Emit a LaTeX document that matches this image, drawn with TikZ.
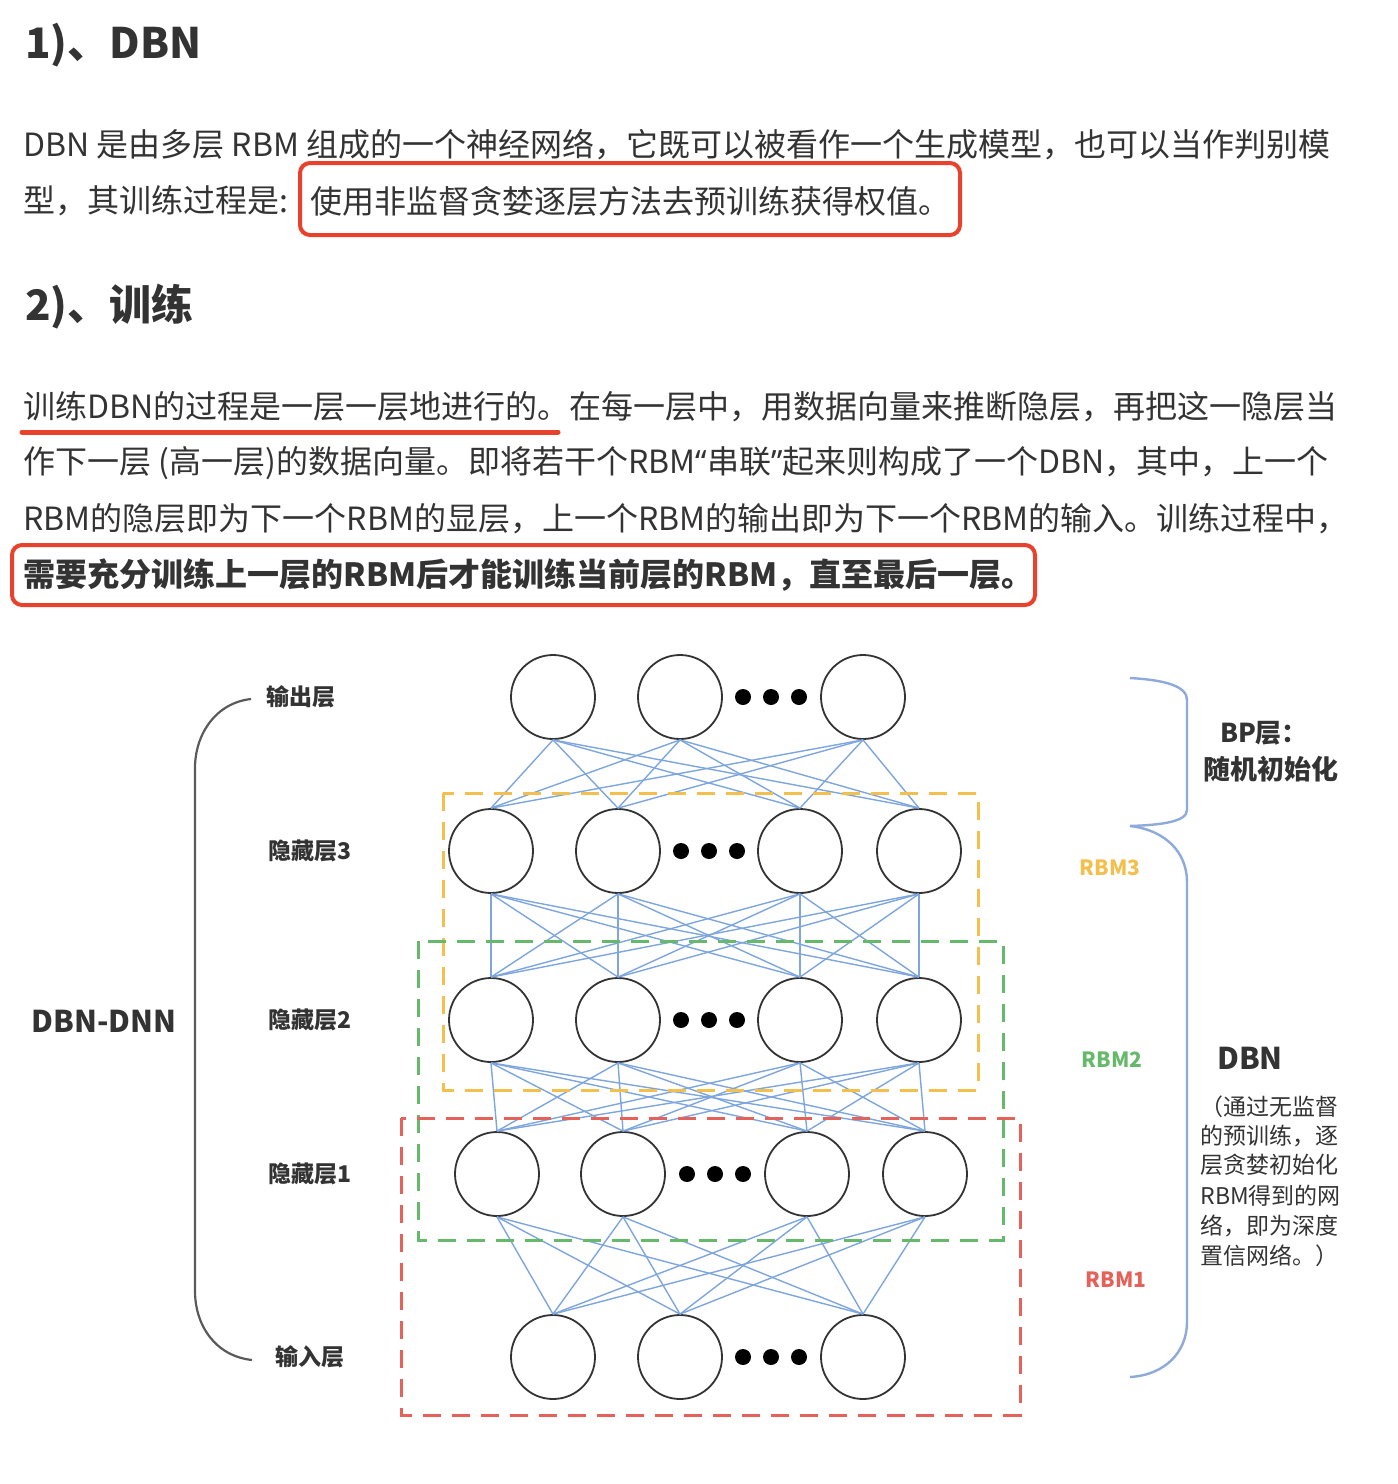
\documentclass[tikz,border=0pt]{standalone}
\usepackage{fontspec}
\setmainfont{Noto Sans CJK SC}
\newfontfamily\latinf{Noto Sans}
\definecolor{txt}{HTML}{333333}
\definecolor{hlred}{HTML}{E8412C}
\definecolor{connblue}{HTML}{7EA6DE}
\definecolor{yboxc}{HTML}{F3C04E}
\definecolor{gboxc}{HTML}{66B96A}
\definecolor{rboxc}{HTML}{E4625A}
\definecolor{bracegray}{HTML}{5A5A5A}
\definecolor{braceblue}{HTML}{8EAADB}
\begin{document}
\begin{tikzpicture}[x=0.5pt,y=-0.5pt,
  para/.style={anchor=west, inner sep=0pt, text=txt, font=\fontsize{16}{16}\selectfont},
  parab/.style={para, font=\fontsize{16}{16}\selectfont\bfseries},
  head/.style={anchor=west, inner sep=0pt, text=txt, font=\fontsize{21}{21}\selectfont\bfseries},
  hl/.style={draw=hlred, line width=2pt, rounded corners=5pt},
  neuron/.style={circle, draw=black!80, line width=0.9pt, fill=white, minimum size=42pt, inner sep=0pt},
  dotn/.style={circle, fill=black, minimum size=8pt, inner sep=0pt},
  conn/.style={draw=connblue, line width=0.7pt},
  dbox/.style={line width=1.5pt, dash pattern=on 9pt off 5.5pt},
  lab/.style={anchor=west, inner sep=0pt, text=txt, font=\fontsize{11.5}{11.5}\selectfont\bfseries},
  rlab/.style={inner sep=0pt, font=\fontsize{10.5}{10.5}\selectfont\bfseries},
  small/.style={anchor=west, inner sep=0pt, text=txt, font=\fontsize{11.5}{11.5}\selectfont}
]
\useasboundingbox (0,0) rectangle (1398,1484);
\fill[white] (0,0) rectangle (1398,1484);

% ---------- text ----------
\node[head] (h1) at (25,45) {1)、DBN};
\node[para] (p1a) at (23,145) {DBN 是由多层 RBM 组成的一个神经网络，它既可以被看作一个生成模型，也可以当作判别模};
\node[para] (p1b) at (23,201) {型，其训练过程是:};
\node[para] (p1c) at (310,201) {使用非监督贪婪逐层方法去预训练获得权值。};
\draw[hl] (300,163) rectangle (960,235);

\node[head] (h2) at (25,307) {2)、训练};
\node[para] (p2a) at (23,407) {训练DBN的过程是一层一层地进行的。在每一层中，用数据向量来推断隐层，再把这一隐层当};
\draw[hlred, line width=2.5pt, line cap=round] (22,432) -- (558,432);
\node[para] (p2b) at (23,463) {作下一层 (高一层)的数据向量。即将若干个RBM{\latinf “}串联{\latinf ”}起来则构成了一个DBN，其中，上一个};
\node[para] (p2c) at (23,519) {RBM的隐层即为下一个RBM的显层，上一个RBM的输出即为下一个RBM的输入。训练过程中，};
\node[parab] (p2d) at (23,575) {需要充分训练上一层的RBM后才能训练当前层的RBM，直至最后一层。};
\draw[hl] (12,545) rectangle (1035,605);

% ---------- neurons ----------
\foreach \n/\x in {1/553,2/680,3/863} \node[neuron] (o\n) at (\x,697) {};
\foreach \n/\x in {1/491,2/618,3/800,4/919} \node[neuron] (a\n) at (\x,851) {};
\foreach \n/\x in {1/491,2/618,3/800,4/919} \node[neuron] (b\n) at (\x,1020) {};
\foreach \n/\x in {1/497,2/623,3/807,4/925} \node[neuron] (c\n) at (\x,1174) {};
\foreach \n/\x in {1/553,2/680,3/863} \node[neuron] (i\n) at (\x,1357) {};

\foreach \n/\x in {1/743,2/771,3/799} \node[dotn] (do\n) at (\x,697) {};
\foreach \n/\x in {1/681,2/709,3/737} \node[dotn] (da\n) at (\x,851) {};
\foreach \n/\x in {1/681,2/709,3/737} \node[dotn] (db\n) at (\x,1020) {};
\foreach \n/\x in {1/687,2/715,3/743} \node[dotn] (dc\n) at (\x,1174) {};
\foreach \n/\x in {1/743,2/771,3/799} \node[dotn] (di\n) at (\x,1357) {};

% ---------- connections ----------
\foreach \i in {1,2,3} \foreach \j in {1,2,3,4} \draw[conn] (o\i.south) -- (a\j.north);
\foreach \i in {1,2,3,4} \foreach \j in {1,2,3,4} \draw[conn] (a\i.south) -- (b\j.north);
\foreach \i in {1,2,3,4} \foreach \j in {1,2,3,4} \draw[conn] (b\i.south) -- (c\j.north);
\foreach \i in {1,2,3,4} \foreach \j in {1,2,3} \draw[conn] (c\i.south) -- (i\j.north);

% ---------- dashed RBM boxes ----------
\draw[dbox, draw=yboxc] (443,793) rectangle (978,1090);
\draw[dbox, draw=gboxc] (418,941) rectangle (1003,1240);
\draw[dbox, draw=rboxc] (401,1118) rectangle (1020,1415);

% ---------- left brace & labels ----------
\coordinate (lbt) at (251,699);
\coordinate (lbb) at (252,1360);
\draw[bracegray, line width=1.1pt] (lbt) .. controls (215,703) and (195,735) .. (195,768) -- (195,1291) .. controls (195,1325) and (215,1356) .. (lbb);
\node[lab] (lout) at (266,697) {输出层};
\node[lab] (lh3) at (268,851) {隐藏层3};
\node[lab] (lh2) at (268,1020) {隐藏层2};
\node[lab] (lh1) at (268,1174) {隐藏层1};
\node[lab] (lin) at (275,1357) {输入层};
\node[inner sep=0pt, text=txt, font=\fontsize{15}{15}\selectfont\bfseries] (ldd) at (104,1021) {DBN-DNN};

% ---------- right brace & labels ----------
\coordinate (rb1) at (1130,678);
\coordinate (rb2) at (1130,826);
\coordinate (rb3) at (1130,1377);
\draw[braceblue, line width=1.2pt] (rb1) .. controls (1165,680) and (1187,686) .. (1187,700) -- (1187,810) .. controls (1187,822) and (1160,825) .. (rb2);
\draw[braceblue, line width=1.2pt] (rb2) .. controls (1165,830) and (1187,852) .. (1187,882) -- (1187,1322) .. controls (1187,1352) and (1165,1375) .. (rb3);

\node[inner sep=0pt, text=txt, font=\fontsize{13}{13}\selectfont\bfseries] (bp1) at (1264,733) {BP层：};
\node[inner sep=0pt, text=txt, font=\fontsize{13.5}{13.5}\selectfont\bfseries] (bp2) at (1271,769) {随机初始化};
\node[rlab, text=yboxc] (r3) at (1110,868) {RBM3};
\node[rlab, text=gboxc] (r2) at (1112,1060) {RBM2};
\node[rlab, text=rboxc] (r1) at (1116,1280) {RBM1};
\node[inner sep=0pt, text=txt, font=\fontsize{15}{15}\selectfont\bfseries] (dbn) at (1250,1058) {DBN};
\node[small] (s1) at (1200,1107) {（通过无监督};
\node[small] (s2) at (1200,1136) {的预训练，逐};
\node[small] (s3) at (1200,1165) {层贪婪初始化};
\node[small] (s4) at (1200,1196) {RBM得到的网};
\node[small] (s5) at (1200,1226) {络，即为深度};
\node[small] (s6) at (1200,1256) {置信网络。）};
\end{tikzpicture}
\end{document}
